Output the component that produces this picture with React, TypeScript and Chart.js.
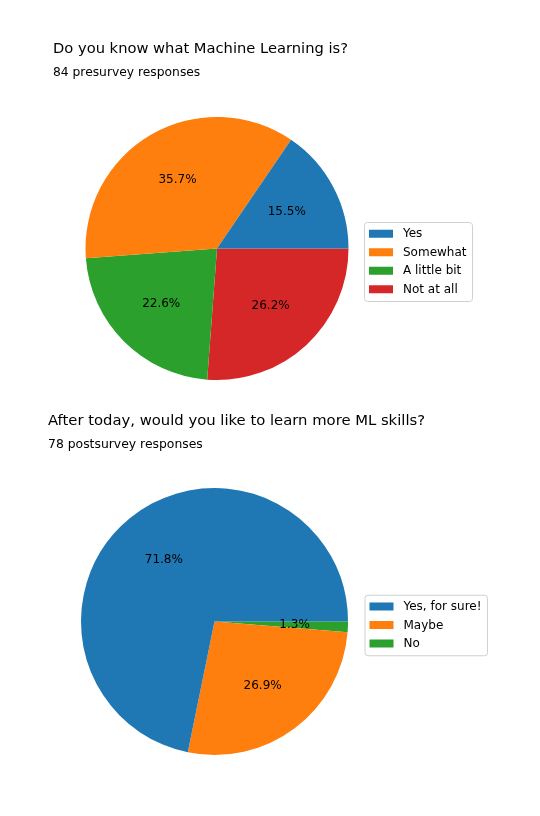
import React, { useEffect, useRef } from 'react';
import { Chart, registerables } from 'chart.js';

Chart.register(...registerables);

const FONT = "'DejaVu Sans', sans-serif";
const COLORS = ['#1f77b4', '#ff7f0e', '#2ca02c', '#d62728'];

const preTitle = 'Do you know what Machine Learning is?';
const preSubtitle = '84 presurvey responses';
const preLabels = ['Yes', 'Somewhat', 'A little bit', 'Not at all'];
const preCounts = [13, 30, 19, 22];

const postTitle = 'After today, would you like to learn more ML skills?';
const postSubtitle = '78 postsurvey responses';
const postLabels = ['Yes, for sure!', 'Maybe', 'No'];
const postCounts = [56, 21, 1];

const piePlugin = {
  id: 'pieExtras',
  afterDraw(chart: any, _args: any, opts: any) {
    const ctx = chart.ctx as CanvasRenderingContext2D;
    const meta = chart.getDatasetMeta(0);
    const data = chart.data.datasets[0].data as number[];
    const total = data.reduce((a, b) => a + b, 0);
    ctx.save();

    // titles (left-aligned at the plot's left edge)
    ctx.fillStyle = '#000';
    ctx.textAlign = 'left';
    ctx.textBaseline = 'middle';
    ctx.font = `${opts.titleSize}px ${FONT}`;
    ctx.fillText(opts.title, chart.chartArea.left, opts.titleY);
    ctx.font = `${opts.subSize}px ${FONT}`;
    ctx.fillText(opts.subtitle, chart.chartArea.left, opts.subY);

    // percentage labels
    ctx.font = `12px ${FONT}`;
    ctx.textAlign = 'center';
    meta.data.forEach((arc: any, i: number) => {
      const p = arc.getProps(['x', 'y', 'startAngle', 'endAngle', 'outerRadius'], true);
      const mid = (p.startAngle + p.endAngle) / 2;
      const r = p.outerRadius * 0.6;
      ctx.fillText(((data[i] / total) * 100).toFixed(1) + '%', p.x + Math.cos(mid) * r, p.y + Math.sin(mid) * r);
    });

    // legend (matplotlib order = reverse of clockwise drawing order)
    const c = meta.data[0].getProps(['x', 'y', 'outerRadius'], true);
    const labels = chart.data.labels as string[];
    const colors = chart.data.datasets[0].backgroundColor as string[];
    const order = labels.map((_, i) => labels.length - 1 - i);
    const pitch = 18.5;
    const pad = 2.5;
    const maxW = Math.max(...labels.map((l) => ctx.measureText(l).width));
    const w = 39 + maxW + 5.5;
    const h = labels.length * pitch + 2 * pad;
    const left = c.x + c.outerRadius + opts.gap;
    const top = c.y + opts.dy - h / 2;
    ctx.beginPath();
    (ctx as any).roundRect(left + 0.5, top + 0.5, w, h, 3);
    ctx.fillStyle = 'rgba(255,255,255,0.8)';
    ctx.fill();
    ctx.strokeStyle = '#d0d0d0';
    ctx.lineWidth = 1;
    ctx.stroke();
    ctx.textAlign = 'left';
    order.forEach((idx, k) => {
      const cy = top + pad + pitch * (k + 0.5);
      ctx.fillStyle = colors[idx];
      ctx.fillRect(left + 5, cy - 4, 24, 8);
      ctx.fillStyle = '#000';
      ctx.fillText(labels[idx], left + 39, cy + 0.5);
    });
    ctx.restore();
  },
};

type PieProps = {
  title: string;
  subtitle: string;
  labels: string[];
  counts: number[];
  padding: { top: number; left: number; right: number; bottom: number };
  titleSize: number;
  subSize: number;
  titleY: number;
  subY: number;
  legendGap: number;
  legendDy: number;
};

function PieChart(props: PieProps) {
  const ref = useRef<HTMLCanvasElement | null>(null);
  useEffect(() => {
    if (!ref.current) return;
    const labelsRev = [...props.labels].reverse();
    const countsRev = [...props.counts].reverse();
    const colorsRev = props.labels.map((_, i) => COLORS[i]).reverse();
    const chart = new Chart(ref.current, {
      type: 'pie',
      data: {
        labels: labelsRev,
        datasets: [
          {
            data: countsRev,
            backgroundColor: colorsRev,
            borderWidth: 0,
            hoverBorderWidth: 0,
            hoverOffset: 0,
          },
        ],
      },
      options: {
        responsive: false,
        animation: false,
        rotation: 90,
        events: [],
        layout: { padding: props.padding },
        plugins: {
          legend: { display: false },
          tooltip: { enabled: false },
          title: { display: false },
          pieExtras: {
            title: props.title,
            subtitle: props.subtitle,
            titleSize: props.titleSize,
            subSize: props.subSize,
            titleY: props.titleY,
            subY: props.subY,
            gap: props.legendGap,
            dy: props.legendDy,
          },
        } as any,
      },
      plugins: [piePlugin],
    });
    return () => chart.destroy();
  }, []);
  return <canvas ref={ref} width={540} height={408} style={{ display: 'block' }} />;
}

export default function App() {
  return (
    <div style={{ position: 'absolute', top: 0, left: 0, width: 540, height: 816, background: '#fff' }}>
      <PieChart
        title={preTitle}
        subtitle={preSubtitle}
        labels={preLabels}
        counts={preCounts}
        padding={{ top: 117, left: 53, right: 159, bottom: 28 }}
        titleSize={14.7}
        subSize={12.3}
        titleY={49}
        subY={73}
        legendGap={15.5}
        legendDy={13}
      />
      <PieChart
        title={postTitle}
        subtitle={postSubtitle}
        labels={postLabels}
        counts={postCounts}
        padding={{ top: 80, left: 48, right: 159, bottom: 61 }}
        titleSize={14.8}
        subSize={12.4}
        titleY={13}
        subY={37}
        legendGap={16.5}
        legendDy={3.5}
      />
    </div>
  );
}
